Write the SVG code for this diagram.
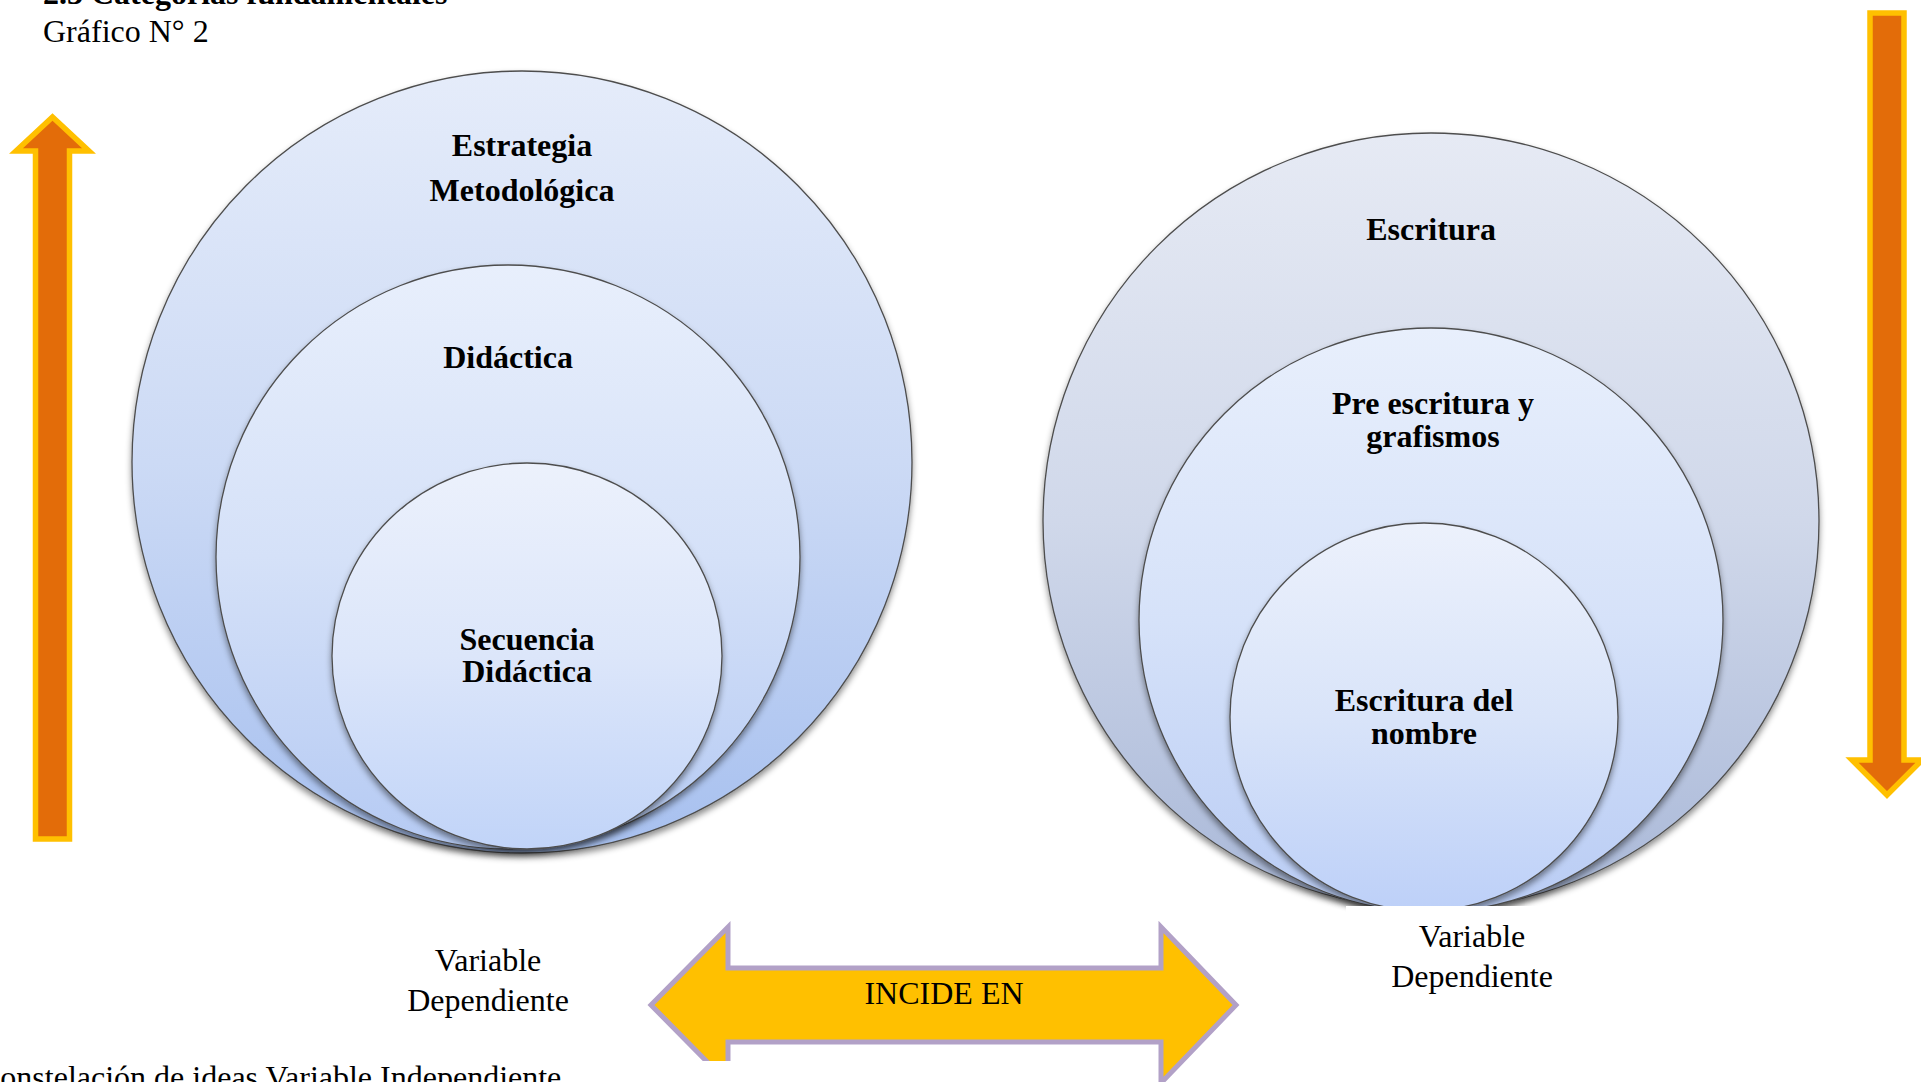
<svg xmlns="http://www.w3.org/2000/svg" width="1921" height="1082" viewBox="0 0 1921 1082">
<style>
text{font-family:"Liberation Serif","Times New Roman",serif;font-size:32px;fill:#000}
.b{font-weight:bold}
.m{text-anchor:middle}
.c{stroke:#4d4d4d;stroke-width:1.3}
.orange{fill:#E36C09;stroke:#FFC000;stroke-width:5.5;stroke-linejoin:miter}
.yel{fill:#FFC000;stroke:#B2A1C7;stroke-width:5;stroke-linejoin:miter}
</style>
<defs>
<linearGradient id="gL1" x1="0" y1="0" x2="0" y2="1"><stop offset="0" stop-color="#E5ECFA"/><stop offset="0.5" stop-color="#CCDAF5"/><stop offset="1" stop-color="#A7C0EF"/></linearGradient>
<linearGradient id="gL2" x1="0" y1="0" x2="0" y2="1"><stop offset="0" stop-color="#E8EFFC"/><stop offset="0.5" stop-color="#D5E1F8"/><stop offset="1" stop-color="#B5CAF3"/></linearGradient>
<linearGradient id="gL3" x1="0" y1="0" x2="0" y2="1"><stop offset="0" stop-color="#ECF1FC"/><stop offset="0.5" stop-color="#DCE6FA"/><stop offset="1" stop-color="#C1D4F8"/></linearGradient>
<linearGradient id="gR1" x1="0" y1="0" x2="0" y2="1"><stop offset="0" stop-color="#E6EAF4"/><stop offset="0.5" stop-color="#D0D8EA"/><stop offset="1" stop-color="#A9B8D8"/></linearGradient>
<linearGradient id="gR2" x1="0" y1="0" x2="0" y2="1"><stop offset="0" stop-color="#E8EFFC"/><stop offset="0.5" stop-color="#D6E2F9"/><stop offset="1" stop-color="#B9CCF4"/></linearGradient>
<linearGradient id="gR3" x1="0" y1="0" x2="0" y2="1"><stop offset="0" stop-color="#ECF1FC"/><stop offset="0.5" stop-color="#D9E4F9"/><stop offset="1" stop-color="#BDD0F8"/></linearGradient>
<filter id="sh" x="-10%" y="-10%" width="120%" height="125%"><feDropShadow dx="0" dy="4" stdDeviation="3" flood-color="#000" flood-opacity="0.45"/></filter>
</defs>
<rect width="1921" height="1082" fill="#fff"/>

<g id="title">
<text class="b" x="43" y="4">2.3 Categorías fundamentales</text>
<text x="43" y="42">Gráfico N° 2</text>
</g>

<g id="left-circles">
<g id="estrategia">
<ellipse class="c" cx="522" cy="462" rx="390" ry="391" fill="url(#gL1)" filter="url(#sh)"/>
<text class="b m" x="522" y="156">Estrategia</text>
<text class="b m" x="522" y="201">Metodológica</text>
</g>
<g id="didactica">
<circle class="c" cx="508" cy="557" r="292" fill="url(#gL2)" filter="url(#sh)"/>
<text class="b m" x="508" y="368">Didáctica</text>
</g>
<g id="secuencia">
<ellipse class="c" cx="527" cy="656" rx="195" ry="193" fill="url(#gL3)" filter="url(#sh)"/>
<text class="b m" x="527" y="650">Secuencia</text>
<text class="b m" x="527" y="682">Didáctica</text>
</g>
</g>

<g id="right-circles">
<g id="escritura">
<circle class="c" cx="1431" cy="521" r="388" fill="url(#gR1)" filter="url(#sh)"/>
<text class="b m" x="1431" y="240">Escritura</text>
</g>
<g id="preescritura">
<circle class="c" cx="1431" cy="620" r="292" fill="url(#gR2)" filter="url(#sh)"/>
<text class="b m" x="1433" y="414">Pre escritura y</text>
<text class="b m" x="1433" y="447">grafismos</text>
</g>
<g id="nombre">
<circle class="c" cx="1424" cy="717" r="194" fill="url(#gR3)" filter="url(#sh)"/>
<text class="b m" x="1424" y="711">Escritura del</text>
<text class="b m" x="1424" y="744">nombre</text>
</g>
</g>

<g id="connectors">
<polygon class="orange" points="52.5,117 89,151 69.5,151 69.5,839 35.5,839 35.5,151 16,151"/>
<polygon class="orange" points="1887,795 1922,760 1904,760 1904,13 1870,13 1870,760 1852,760"/>
<polygon class="yel" points="651,1005 728,927 728,968 1161,968 1161,927 1236,1005 1161,1083 1161,1042 728,1042 728,1083"/>
<text class="m" x="944" y="1004">INCIDE EN</text>
</g>

<g id="label-left">
<text class="m" x="488" y="971">Variable</text>
<text class="m" x="488" y="1011">Dependiente</text>
</g>

<g id="label-right">
<rect x="1346" y="906" width="575" height="176" fill="#fff"/>
<text class="m" x="1472" y="947">Variable</text>
<text class="m" x="1472" y="987">Dependiente</text>
</g>

<g id="caption">
<rect x="0" y="1061" width="731" height="21" fill="#fff"/>
<text x="-21" y="1088">Constelación de ideas Variable Independiente</text>
</g>
</svg>
